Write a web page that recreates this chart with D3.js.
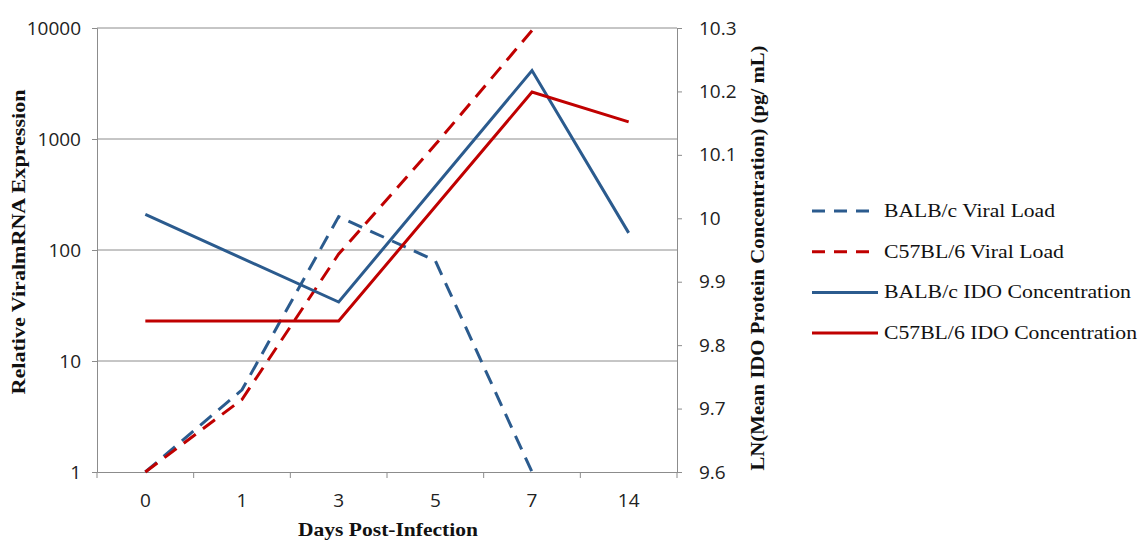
<!DOCTYPE html>
<html>
<head>
<meta charset="utf-8">
<script src="https://cdn.jsdelivr.net/npm/d3@7"></script>
<style>
  body { margin: 0; background: #fff; }
  .tick text { font-family: "Open Sans", "Liberation Sans", sans-serif; font-size: 19px; fill: #222; }
  .title { font-family: "Liberation Serif", "Times New Roman", serif; font-weight: bold; font-size: 19px; fill: #111; }
  .legend text { font-family: "Liberation Serif", "Times New Roman", serif; font-size: 19px; fill: #111; }
</style>
</head>
<body>
<div id="chart"></div>
<script>
// chart data
const days = ["0", "1", "3", "5", "7", "14"];
const balbViral = [1, 5.5, 200, 80, 1, null];
const c57Viral = [1, 4.5, 92, 890, 9500, null];
const balbIdo = [10.006, null, 9.868, null, 10.233, 9.977];
const c57Ido = [9.838, null, 9.838, null, 10.199, 10.152];
const leftTicks = [1, 10, 100, 1000, 10000];
const rightTicks = [9.6, 9.7, 9.8, 9.9, 10, 10.1, 10.2, 10.3];

const width = 1141;
const height = 540;
const margin = {left: 97, right: 464, top: 28, bottom: 68};

const blue = "#2b5b8e";
const red = "#c00000";

const svg = d3.select("#chart")
  .append("svg")
  .attr("width", width)
  .attr("height", height);

// scales
const x = d3.scaleBand()
  .domain(days)
  .range([margin.left, width - margin.right]);

const yLeft = d3.scaleLog()
  .domain([1, 10000])
  .range([height - margin.bottom, margin.top]);

const yRight = d3.scaleLinear()
  .domain([9.6, 10.3])
  .range([height - margin.bottom, margin.top]);

const cx = d => x(d) + x.bandwidth() / 2;

// gridlines
svg.append("g")
  .selectAll("line")
  .data(leftTicks.slice(1))
  .join("line")
    .attr("x1", margin.left)
    .attr("x2", width - margin.right)
    .attr("y1", d => yLeft(d))
    .attr("y2", d => yLeft(d))
    .attr("stroke", "#8c8c8c")
    .attr("stroke-width", 1);

// left axis
const gL = svg.append("g")
  .attr("transform", `translate(${margin.left},0)`)
  .call(d3.axisLeft(yLeft).tickValues(leftTicks).tickFormat(d3.format("d")).tickSize(5).tickPadding(11));

// right axis
const gR = svg.append("g")
  .attr("transform", `translate(${width - margin.right},0)`)
  .call(d3.axisRight(yRight).tickValues(rightTicks).tickFormat(d => d3.format("")(+d.toFixed(1))).tickSize(5).tickPadding(17));

// bottom axis, ticks at band edges
const gB = svg.append("g")
  .attr("transform", `translate(0,${height - margin.bottom})`)
  .call(d3.axisBottom(x).tickSize(0).tickPadding(22));

gB.selectAll(".edge")
  .data(d3.range(days.length + 1))
  .join("line")
    .attr("class", "edge")
    .attr("x1", i => margin.left + i * x.step())
    .attr("x2", i => margin.left + i * x.step())
    .attr("y1", 0)
    .attr("y2", 6)
    .attr("stroke", "#8c8c8c");

[gL, gR, gB].forEach(g => {
  g.selectAll(".domain").attr("stroke", "#8c8c8c");
  g.selectAll(".tick line").attr("stroke", "#8c8c8c");
});

// series lines
const series = [
  {name: "BALB/c Viral Load", values: balbViral, scale: yLeft, color: blue, dash: "15,9"},
  {name: "C57BL/6 Viral Load", values: c57Viral, scale: yLeft, color: red, dash: "15,9"},
  {name: "BALB/c IDO Concentration", values: balbIdo, scale: yRight, color: blue, dash: null},
  {name: "C57BL/6 IDO Concentration", values: c57Ido, scale: yRight, color: red, dash: null}
];
const legendWidths = [171, 180, 247, 253];

series.forEach(s => {
  const pts = days.map((d, i) => ({day: d, v: s.values[i]})).filter(p => p.v !== null);
  const line = d3.line()
    .x(p => cx(p.day))
    .y(p => s.scale(p.v));
  svg.append("path")
    .datum(pts)
    .attr("d", line)
    .attr("fill", "none")
    .attr("stroke", s.color)
    .attr("stroke-width", 3)
    .attr("stroke-dasharray", s.dash);
});

// legend
const legend = svg.append("g")
  .attr("class", "legend")
  .attr("transform", "translate(812,211)");

const row = legend.selectAll("g")
  .data(series)
  .join("g")
    .attr("transform", (d, i) => `translate(0,${i * 40.7})`);

row.append("line")
  .attr("x1", 0).attr("x2", 66)
  .attr("y1", 0).attr("y2", 0)
  .attr("stroke", d => d.color)
  .attr("stroke-width", 3)
  .attr("stroke-dasharray", d => d.dash ? "13,9" : null);

row.append("text")
  .attr("x", 72)
  .attr("y", 6)
  .attr("textLength", (d, i) => legendWidths[i])
  .attr("lengthAdjust", "spacingAndGlyphs")
  .text(d => d.name);

// axis titles
svg.append("text")
  .attr("class", "title")
  .attr("transform", `translate(25,${(margin.top + height - margin.bottom) / 2 - 8}) rotate(-90)`)
  .attr("text-anchor", "middle")
  .attr("textLength", 305)
  .attr("lengthAdjust", "spacingAndGlyphs")
  .text("Relative ViralmRNA  Expression");

svg.append("text")
  .attr("class", "title")
  .attr("transform", `translate(764,${(margin.top + height - margin.bottom) / 2 + 8}) rotate(-90)`)
  .attr("text-anchor", "middle")
  .attr("textLength", 425)
  .attr("lengthAdjust", "spacingAndGlyphs")
  .text("LN(Mean IDO Protein Concentration) (pg/ mL)");

svg.append("text")
  .attr("class", "title")
  .attr("x", 388)
  .attr("y", 536)
  .attr("text-anchor", "middle")
  .attr("textLength", 180)
  .attr("lengthAdjust", "spacingAndGlyphs")
  .text("Days Post-Infection");
</script>
</body>
</html>
